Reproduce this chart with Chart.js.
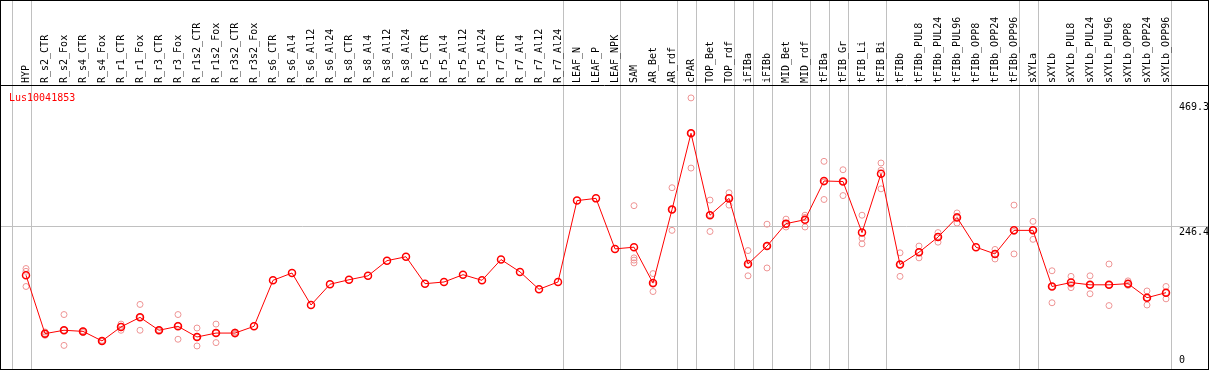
<!DOCTYPE html>
<html>
<head>
<meta charset="utf-8">
<script src="https://cdn.jsdelivr.net/npm/chart.js@4.4.1/dist/chart.umd.min.js"></script>
<style>
  html, body { margin: 0; padding: 0; background: #fff; }
  #wrap { width: 1209px; height: 370px; }
</style>
</head>
<body>
<div id="wrap"><canvas id="grafico" width="1209" height="370"></canvas></div>
<script>
// Datos del gen
const nombreGen = 'Lus10041853';

const categorias = [
  'HYP', 'R_s2_CTR', 'R_s2_Fox', 'R_s4_CTR', 'R_s4_Fox', 'R_r1_CTR', 'R_r1_Fox', 'R_r3_CTR', 'R_r3_Fox',
  'R_r1s2_CTR', 'R_r1s2_Fox', 'R_r3s2_CTR', 'R_r3s2_Fox', 'R_s6_CTR', 'R_s6_Al4', 'R_s6_Al12', 'R_s6_Al24',
  'R_s8_CTR', 'R_s8_Al4', 'R_s8_Al12', 'R_s8_Al24', 'R_r5_CTR', 'R_r5_Al4', 'R_r5_Al12', 'R_r5_Al24',
  'R_r7_CTR', 'R_r7_Al4', 'R_r7_Al12', 'R_r7_Al24', 'LEAF_N', 'LEAF_P', 'LEAF_NPK', 'SAM', 'AR_Bet', 'AR_rdf',
  'cPAR', 'TOP_Bet', 'TOP_rdf', 'iFIBa', 'iFIBb', 'MID_Bet', 'MID_rdf', 'tFIBa', 'tFIB_Gr', 'tFIB_Li', 'tFIB_Bi',
  'tFIBb', 'tFIBb_PUL8', 'tFIBb_PUL24', 'tFIBb_PUL96', 'tFIBb_OPP8', 'tFIBb_OPP24', 'tFIBb_OPP96',
  'sXYLa', 'sXYLb', 'sXYLb_PUL8', 'sXYLb_PUL24', 'sXYLb_PUL96', 'sXYLb_OPP8', 'sXYLb_OPP24', 'sXYLb_OPP96'
];

// promedio por condición
const medias = [
  159, 55, 61, 59, 42, 67, 84, 61, 68, 49, 56, 56, 68,
  150, 163, 106, 143, 151, 158, 185, 192, 144, 147, 160, 150, 187, 165, 134, 147,
  292, 296, 206, 209, 145, 276, 412, 266, 296, 179, 211, 251, 258,
  327, 326, 235, 340, 178, 200, 227, 262, 209, 197, 239,
  239, 139, 146, 142, 142, 144, 119, 128
];

// réplicas (null = no hay)
const replicaA = [
  171, 58, 89, 60, 43, 72, 107, 62, 89, 65, 72, 58, null,
  null, null, null, null, null, null, null, null, null, null, null, null, null, null, null, null,
  null, null, null, 283, 162, 315, 475, 293, 306, 203, 250, 259, 266,
  362, 347, 266, 359, 199, 211, 235, 270, null, 205, 284,
  255, 167, 157, 158, 179, 149, 131, 139
];
const replicaB = [
  166, 52, 61, 57, 41, 68, 84, 60, 70, 49, 56, 54, null,
  null, null, null, null, null, null, null, null, null, null, null, null, null, null, null, null,
  null, null, null, 190, 143, 276, 412, 267, 297, 177, 211, 250, 262,
  325, 326, 225, 346, 178, 200, 228, 264, null, 197, 237,
  240, 139, 143, 142, 142, 144, 119, 128
];
const replicaC = [
  139, 55, 34, 59, 42, 61, 61, 61, 45, 33, 39, 55, null,
  null, null, null, null, null, null, null, null, null, null, null, null, null, null, null, null,
  null, null, null, 186, 130, 239, 350, 237, 284, 158, 172, 245, 245,
  294, 301, 215, 313, 157, 190, 218, 252, null, 188, 197,
  223, 110, 137, 126, 105, 141, 106, 117
];
const replicaD = [
  null, null, null, null, null, null, null, null, null, null, null, null, null,
  null, null, null, null, null, null, null, null, null, null, null, null, null, null, null, null,
  null, null, null, 181, null, null, null, null, null, null, null, null, null,
  null, null, null, null, null, null, null, null, null, null, null,
  null, null, null, null, null, null, null, null
];

const ticksY = [0, 246.4, 469.3];
const maxY = 498;

// índice de la última condición de cada grupo (-1 = borde izquierdo)
const separadores = [-1, 0, 28, 31, 34, 35, 37, 38, 39, 41, 42, 43, 45, 52, 53, 60];

// Armar los puntos de réplicas (x = nombre de la categoría)
const puntosReplica = [];
[replicaA, replicaB, replicaC, replicaD].forEach(serie => {
  serie.forEach((v, i) => {
    if (v !== null) puntosReplica.push({ x: categorias[i], y: v });
  });
});

const fuente = '10px "DejaVu Sans Mono", monospace';

// Plugin para cabecera, separadores y etiquetas
const decoracion = {
  id: 'decoracion',
  beforeDatasetsDraw(chart) {
    const ctx = chart.ctx;
    const x = chart.scales.x;
    const y = chart.scales.y;
    const area = chart.chartArea;
    ctx.save();
    ctx.strokeStyle = '#c0c0c0';
    ctx.lineWidth = 1;

    separadores.forEach(i => {
      const px = Math.floor(x.getPixelForValue(i) + 5) + 0.5;
      ctx.beginPath();
      ctx.moveTo(px, 0);
      ctx.lineTo(px, chart.height);
      ctx.stroke();
    });

    const py = Math.floor(y.getPixelForValue(ticksY[1])) + 0.5;
    ctx.beginPath();
    ctx.moveTo(0, py);
    ctx.lineTo(chart.width, py);
    ctx.stroke();

    // bordes negros
    ctx.strokeStyle = '#000';
    ctx.beginPath();
    ctx.moveTo(0, Math.floor(area.top) + 0.5);
    ctx.lineTo(chart.width, Math.floor(area.top) + 0.5);
    ctx.stroke();
    ctx.strokeRect(0.5, 0.5, chart.width - 1, chart.height - 1);

    // etiquetas de condiciones (verticales)
    ctx.font = fuente;
    ctx.fillStyle = '#000';
    ctx.textAlign = 'left';
    ctx.textBaseline = 'middle';
    categorias.forEach((c, i) => {
      ctx.save();
      ctx.translate(x.getPixelForValue(i) + 0.5, area.top - 2);
      ctx.rotate(-Math.PI / 2);
      ctx.fillText(c, 0, 0);
      ctx.restore();
    });

    // valores del eje Y a la derecha
    ctx.textBaseline = 'alphabetic';
    ticksY.forEach(t => {
      const ty = y.getPixelForValue(t);
      const dy = t === 0 ? -2 : 8.5;
      ctx.fillText(String(t), area.right + 3.5, ty + dy);
    });

    // nombre del gen
    ctx.fillStyle = '#ff0000';
    ctx.fillText(nombreGen, 9, area.top + 15.5);
    ctx.restore();
  }
};

new Chart(document.getElementById('grafico'), {
  type: 'line',
  data: {
    labels: categorias,
    datasets: [
      {
        label: nombreGen,
        data: medias,
        borderColor: '#ff0000',
        borderWidth: 1,
        pointRadius: 3.5,
        pointBorderWidth: 1.5,
        pointBorderColor: '#ff0000',
        pointBackgroundColor: 'rgba(0,0,0,0)',
        tension: 0,
        order: 0
      },
      {
        label: 'replicas',
        data: puntosReplica,
        showLine: false,
        pointRadius: 3,
        pointBorderWidth: 1,
        pointBorderColor: '#ee9494',
        pointBackgroundColor: 'rgba(0,0,0,0)',
        order: 1
      }
    ]
  },
  options: {
    responsive: false,
    animation: false,
    devicePixelRatio: 1,
    events: [],
    layout: { padding: { left: 16.5, right: 33.5, top: 85, bottom: 2 } },
    scales: {
      x: { display: false, offset: true },
      y: { display: false, min: 0, max: maxY }
    },
    plugins: {
      legend: { display: false },
      tooltip: { enabled: false }
    }
  },
  plugins: [decoracion]
});
</script>
</body>
</html>
